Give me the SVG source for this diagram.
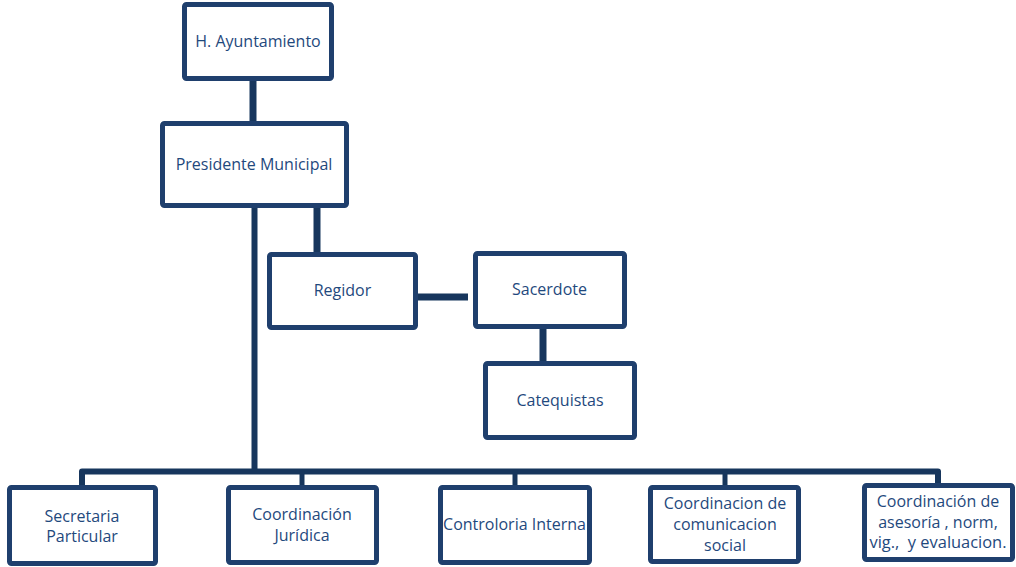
<svg xmlns="http://www.w3.org/2000/svg" width="1016" height="567" viewBox="0 0 1016 567">
<style>
.box{fill:#fff;stroke:#1f3f6d;stroke-width:5}
.t{font-family:"Open Sans","Liberation Sans",sans-serif;font-size:16px;fill:#1f497d;text-anchor:middle}
.c{stroke:#17365d;fill:none}
</style>
<rect width="1016" height="567" fill="#fff"/>
<g id="connectors">
<line class="c" x1="253" y1="79" x2="253" y2="127" stroke-width="7"/>
<line class="c" x1="254.5" y1="206" x2="254.5" y2="472" stroke-width="6"/>
<line class="c" x1="317" y1="206" x2="317" y2="256" stroke-width="7"/>
<line class="c" x1="416" y1="297" x2="468" y2="297" stroke-width="7"/>
<line class="c" x1="543" y1="327" x2="543" y2="376" stroke-width="7"/>
<polyline class="c" points="82,487 82,471.5 938,471.5 938,485" stroke-width="6" stroke-linejoin="round"/>
<line class="c" x1="302" y1="471" x2="302" y2="487" stroke-width="5"/>
<line class="c" x1="515" y1="471" x2="515" y2="487" stroke-width="5"/>
<line class="c" x1="725" y1="471" x2="725" y2="487" stroke-width="5"/>
</g>
<g id="ayuntamiento"><rect class="box" x="184.5" y="4.5" width="147" height="74" rx="2"/><text class="t" x="258" y="47">H. Ayuntamiento</text></g>
<g id="presidente"><rect class="box" x="162.5" y="123.5" width="184" height="82" rx="2"/><text class="t" x="254" y="170">Presidente Municipal</text></g>
<g id="regidor"><rect class="box" x="269.5" y="254.5" width="146" height="73" rx="2"/><text class="t" x="342.5" y="296">Regidor</text></g>
<g id="sacerdote"><rect class="box" x="475.5" y="253.5" width="149" height="73" rx="2"/><text class="t" x="549.5" y="295">Sacerdote</text></g>
<g id="catequistas"><rect class="box" x="485.5" y="363.5" width="149" height="74" rx="2"/><text class="t" x="560" y="406">Catequistas</text></g>
<g id="secretaria"><rect class="box" x="9.5" y="487.5" width="146" height="76" rx="2"/><text class="t" x="82" y="522">Secretaria</text><text class="t" x="82" y="542">Particular</text></g>
<g id="juridica"><rect class="box" x="228.5" y="487.5" width="148" height="75" rx="2"/><text class="t" x="302" y="520">Coordinación</text><text class="t" x="302" y="541">Jurídica</text></g>
<g id="controloria"><rect class="box" x="440.5" y="487.5" width="149" height="75" rx="2"/><text class="t" x="514.5" y="530">Controloria Interna</text></g>
<g id="comunicacion"><rect class="box" x="650.5" y="487.5" width="148" height="74" rx="2"/><text class="t" x="725" y="509">Coordinacion de</text><text class="t" x="725" y="530">comunicacion</text><text class="t" x="725" y="551">social</text></g>
<g id="asesoria"><rect class="box" x="864.5" y="485.5" width="148" height="74" rx="2"/><text class="t" x="938" y="507">Coordinación de</text><text class="t" x="938" y="528">asesoría , norm,</text><text class="t" x="938" y="548" xml:space="preserve" textLength="137" lengthAdjust="spacingAndGlyphs">vig.,  y evaluacion.</text></g>
</svg>
